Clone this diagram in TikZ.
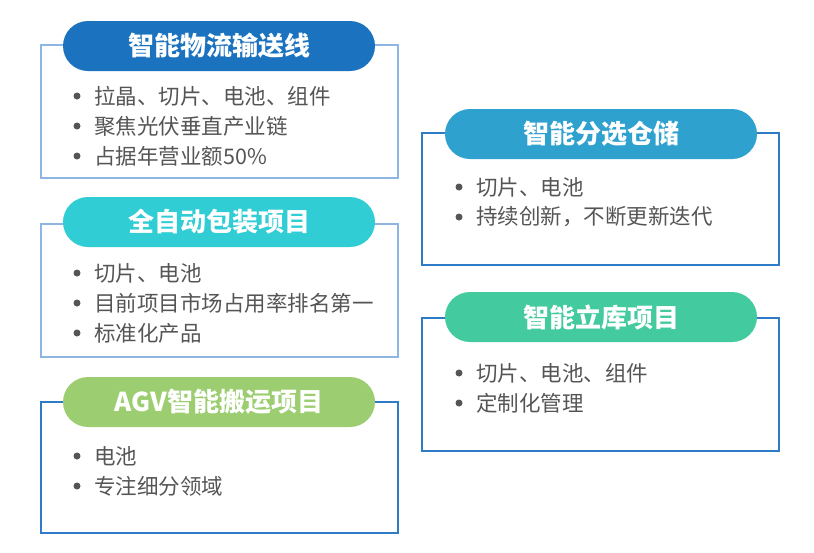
\documentclass[tikz,border=0pt]{standalone}
\usepackage{fontspec}
\setmainfont{Noto Sans CJK SC}
\usepackage{xcolor}

\definecolor{pillA}{HTML}{1B72BE}
\definecolor{pillB}{HTML}{31CDD5}
\definecolor{pillC}{HTML}{9CCE71}
\definecolor{pillD}{HTML}{2EA1CF}
\definecolor{pillE}{HTML}{43CA9E}
\definecolor{lineLight}{HTML}{8DB6E3}
\definecolor{lineDark}{HTML}{2E7BC8}
\definecolor{itemgray}{HTML}{555555}

\begin{document}
\begin{tikzpicture}[x=1pt, y=-1pt,
  pill/.style={rounded corners=25pt, minimum width=312pt, minimum height=50pt,
    inner sep=0pt, text=white, font=\bfseries\fontsize{26}{26}\selectfont},
  panel/.style={line width=1.3pt},
  item/.style={anchor=west, inner sep=0pt, text=itemgray,
    font=\fontsize{21.5}{21.5}\selectfont},
  dot/.style={circle, fill=itemgray, inner sep=0pt, minimum size=7pt},
]
  \useasboundingbox (0,0) rectangle (814,552);

  % left column
  \draw[panel, draw=lineLight] (41,45) rectangle (398,178);
  \node[pill, fill=pillA] (logistics) at (219,46) {智能物流输送线};
  \foreach \txt [count=\i] in {拉晶、切片、电池、组件, 聚焦光伏垂直产业链, 占据年营业额50\%} {
    \node[dot] (logistics-dot-\i) at (77,{66+30*\i}) {};
    \node[item] (logistics-\i) at (94,{66+30*\i}) {\txt};
  }

  \draw[panel, draw=lineLight] (41,224) rectangle (398,357);
  \node[pill, fill=pillB] (packing) at (219,222) {全自动包装项目};
  \foreach \txt [count=\i] in {切片、电池, 目前项目市场占用率排名第一, 标准化产品} {
    \node[dot] (packing-dot-\i) at (77,{243+30*\i}) {};
    \node[item] (packing-\i) at (94,{243+30*\i}) {\txt};
  }

  \draw[panel, draw=lineDark] (41,402) rectangle (398,533);
  \node[pill, fill=pillC] (agv) at (219,402) {AGV智能搬运项目};
  \foreach \txt [count=\i] in {电池, 专注细分领域} {
    \node[dot] (agv-dot-\i) at (77,{426+30*\i}) {};
    \node[item] (agv-\i) at (94,{426+30*\i}) {\txt};
  }

  % right column
  \draw[panel, draw=lineDark] (422,133) rectangle (779,265);
  \node[pill, fill=pillD] (sorting) at (601,134) {智能分选仓储};
  \foreach \txt [count=\i] in {切片、电池, 持续创新，不断更新迭代} {
    \node[dot] (sorting-dot-\i) at (459,{157+30*\i}) {};
    \node[item] (sorting-\i) at (476,{157+30*\i}) {\txt};
  }

  \draw[panel, draw=lineDark] (422,318) rectangle (779,451);
  \node[pill, fill=pillE] (storage) at (601,317) {智能立库项目};
  \foreach \txt [count=\i] in {切片、电池、组件, 定制化管理} {
    \node[dot] (storage-dot-\i) at (459,{343+30*\i}) {};
    \node[item] (storage-\i) at (476,{343+30*\i}) {\txt};
  }
\end{tikzpicture}
\end{document}
